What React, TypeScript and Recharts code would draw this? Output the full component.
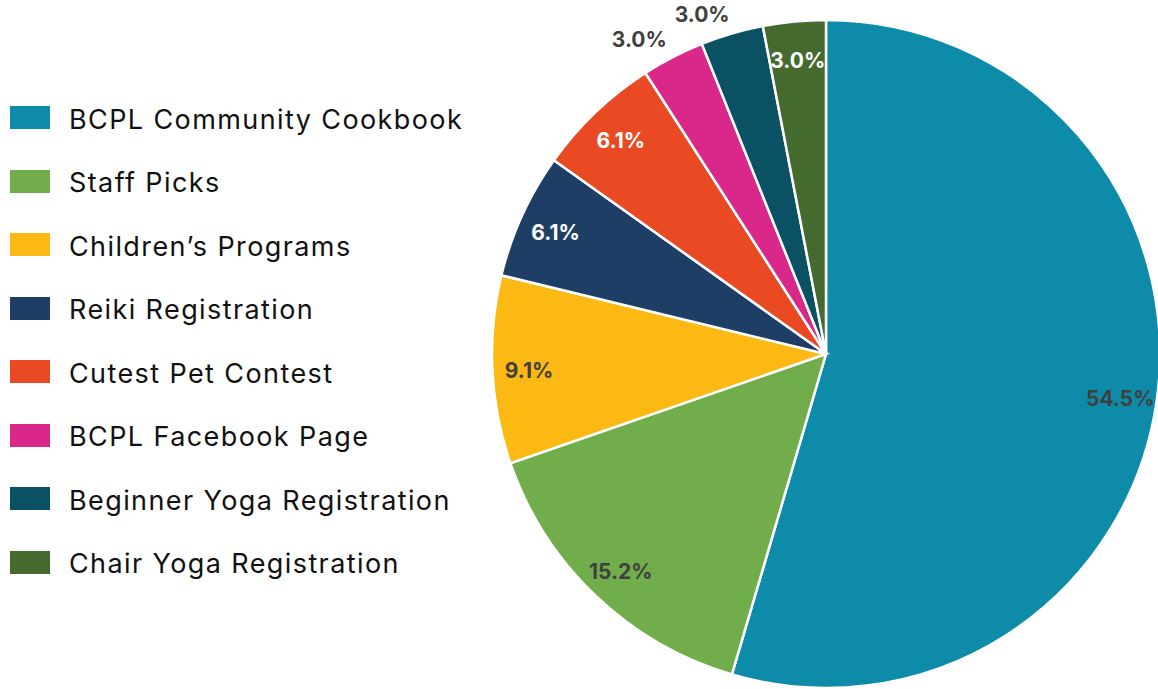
import { Cell, Pie, PieChart } from "recharts";

const categories = [
  "BCPL Community Cookbook",
  "Staff Picks",
  "Children’s Programs",
  "Reiki Registration",
  "Cutest Pet Contest",
  "BCPL Facebook Page",
  "Beginner Yoga Registration",
  "Chair Yoga Registration",
];
const counts = [18, 5, 3, 2, 2, 1, 1, 1];
const colors = [
  "#0d8ba9",
  "#71ad4a",
  "#fdb913",
  "#1e3e66",
  "#e94a24",
  "#d9288a",
  "#0a5164",
  "#446a2d",
];
// slices whose label reads dark on the fill
const darkLabelSlices = ["BCPL Community Cookbook", "Staff Picks", "Children’s Programs"];
// thin slices labelled outside the pie
const outsideLabelSlices = ["BCPL Facebook Page", "Beginner Yoga Registration"];

const data = categories.map((name, i) => ({ name, value: counts[i], color: colors[i] }));

const RAD = Math.PI / 180;
const labelFont = "Inter, 'Noto Sans', sans-serif";

function renderLabel(props: any) {
  const { cx, cy, midAngle, outerRadius, percent, name } = props;
  const outside = outsideLabelSlices.includes(name);
  const r = outside ? outerRadius + 22 : outerRadius * 0.89;
  const x = cx + r * Math.cos(-midAngle * RAD);
  const y = cy + r * Math.sin(-midAngle * RAD);
  const dark = outside || darkLabelSlices.includes(name);
  return (
    <text
      x={x + (outside ? 4 : 0)}
      y={y + 2}
      textAnchor={outside ? "end" : "middle"}
      dominantBaseline="central"
      fill={dark ? "#404040" : "#ffffff"}
      fontFamily={labelFont}
      fontSize={21}
      fontWeight={700}
    >
      {`${(percent * 100).toFixed(1)}%`}
    </text>
  );
}

function LegendList() {
  return (
    <div style={{ position: "absolute", left: 0, top: 86, fontFamily: labelFont }}>
      {data.map((d) => (
        <div key={d.name} style={{ display: "flex", alignItems: "center", height: 63.5 }}>
          <div style={{ width: 40, height: 23, background: d.color, marginLeft: 10 }} />
          <span
            style={{
              marginLeft: 19,
              marginTop: 3,
              fontSize: 27,
              letterSpacing: 1.4,
              color: "#111111",
              whiteSpace: "nowrap",
            }}
          >
            {d.name}
          </span>
        </div>
      ))}
    </div>
  );
}

export default function App() {
  return (
    <div style={{ position: "absolute", left: 0, top: 0, width: 1158, height: 689, background: "#fff" }}>
      <LegendList />
      <div style={{ position: "absolute", left: 0, top: 0 }}>
        <PieChart width={1158} height={689} margin={{ top: 0, right: 0, bottom: 0, left: 0 }}>
          <Pie
            data={data}
            dataKey="value"
            nameKey="name"
            cx={826}
            cy={354}
            outerRadius={334}
            startAngle={90}
            endAngle={-270}
            stroke="#ffffff"
            strokeWidth={2.5}
            label={renderLabel}
            labelLine={false}
            isAnimationActive={false}
          >
            {data.map((d) => (
              <Cell key={d.name} fill={d.color} />
            ))}
          </Pie>
        </PieChart>
      </div>
    </div>
  );
}
